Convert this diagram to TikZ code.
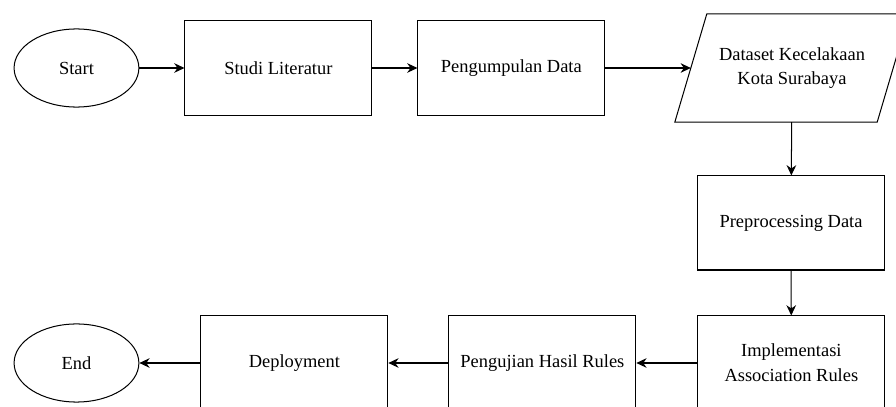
\documentclass[tikz,border=0pt]{standalone}
\usepackage{fontspec}
\setmainfont{Liberation Serif}
\usepackage{tikz}
\usetikzlibrary{arrows.meta,positioning,shapes.geometric}

\begin{document}
\begin{tikzpicture}[
  every node/.style={font=\fontsize{16.4}{22}\selectfont, align=center},
  proc/.style={rectangle, draw=black, line width=0.9pt, minimum width=5.84cm, minimum height=2.94cm},
  term/.style={ellipse, draw=black, line width=0.9pt, minimum width=3.9cm, minimum height=2.44cm},
  iotext/.style={rectangle, minimum width=6.31cm, minimum height=3.37cm},
  flow/.style={-{Stealth[length=3.2mm,width=3mm]}, line width=0.9pt}]
  \useasboundingbox (0,0) rectangle (28,12.6875);
  \clip (0,0) rectangle (28,12.6875);

  \node (st) [term] at (2.39,10.5625) {Start};
  \node (sl) [proc] at (8.70,10.5625) {Studi Literatur};
  \node (pd) [proc] at (15.98,10.5625) {Pengumpulan Data};
  \node (ds) [iotext] at (24.75,10.5625) {Dataset Kecelakaan\\Kota Surabaya};
  % parallelogram round the data node
  \draw [line width=0.9pt] ([xshift=-0.5cm]ds.south west) -- ([xshift=0.5cm]ds.north west)
    -- ([xshift=0.5cm]ds.north east) -- ([xshift=-0.5cm]ds.south east) -- cycle;

  \node (pp) [proc] at (24.72,5.72) {Preprocessing Data};
  \node (ar) [proc] at (24.73,1.344) {Implementasi\\Association Rules};
  \node (ph) [proc] at (16.95,1.344) {Pengujian Hasil Rules};
  \node (dp) [proc] at (9.20,1.344) {Deployment};
  \node (en) [term] at (2.39,1.344) {End};

  \path [flow]
  (st) edge (sl)
  (sl) edge (pd)
  (pd) edge (ds)
  (ds) edge (pp)
  (pp) edge (ar)
  (ar) edge (ph)
  (ph) edge (dp)
  (dp) edge (en);
\end{tikzpicture}
\end{document}
